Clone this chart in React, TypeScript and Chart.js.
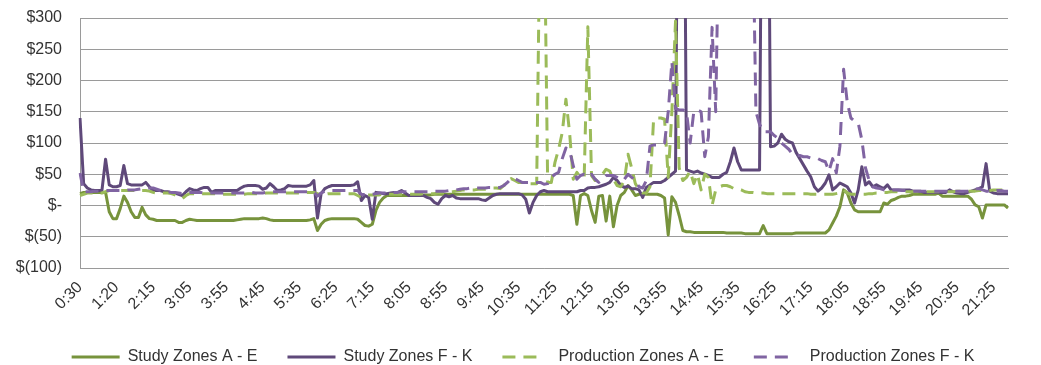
import React, { useEffect, useRef } from "react";
import { Chart, registerables } from "chart.js";

Chart.register(...registerables);

// Time-of-day categories (5-minute steps; one slot after 1:20 is absent in the source)
function fmtTime(m: number): string {
  const h = Math.floor(m / 60);
  const mm = m % 60;
  return `${h}:${mm.toString().padStart(2, "0")}`;
}
const categories: string[] = Array.from({ length: 255 }, (_, i) =>
  fmtTime(30 + 5 * (i <= 10 ? i : i + 1))
);

const yTicks = [-100, -50, 0, 50, 100, 150, 200, 250, 300];

const studyAE = [
  19, 21, 21, 21, 21, 21, 21, 21, -10, -21,
  -21, -5, 15, 5, -10, -19, -19, -3, -15, -21,
  -22, -24, -24, -24, -24, -24, -24, -27, -27, -24,
  -22, -23, -24, -24, -24, -24, -24, -24, -24, -24,
  -24, -24, -24, -23, -22, -21, -21, -21, -21, -21,
  -20, -21, -23, -24, -24, -24, -24, -24, -24, -24,
  -24, -24, -24, -23, -21, -40, -30, -24, -22, -21,
  -21, -21, -21, -21, -21, -21, -22, -27, -32, -33,
  -30, -8, 5, 12, 16, 16, 16, 16, 16, 16,
  16, 16, 16, 17, 17, 17, 17, 18, 18, 18,
  18, 18, 18, 18, 18, 18, 18, 18, 18, 18,
  18, 18, 18, 18, 18, 18, 18, 18, 18, 18,
  18, 18, 18, 18, 18, 18, 18, 18, 18, 18,
  18, 18, 18, 18, 18, 16, -30, 16, 19, 16,
  -8, -27, 15, 16, -25, 15, -34, 0, 16, 21,
  32, 25, 16, 18, 18, 18, 18, 18, 18, 16,
  12, -47, 14, 5, -16, -40, -42, -42, -43, -43,
  -43, -43, -43, -43, -43, -43, -43, -44, -44, -44,
  -44, -44, -45, -45, -45, -45, -45, -32, -45, -45,
  -45, -45, -45, -45, -45, -45, -44, -44, -44, -44,
  -44, -44, -44, -44, -44, -39, -28, -17, -2, 25,
  20, 4, -7, -10, -10, -10, -10, -10, -10, -10,
  4, 2, 8, 10, 13, 15, 15, 16, 18, 18,
  18, 18, 18, 18, 18, 20, 15, 15, 15, 15,
  15, 15, 15, 15, 10, 1, -2, -20, 1, 1,
  1, 1, 1, 1, -4,
];

const studyFK = [
  140, 35, 28, 25, 24, 24, 24, 74, 33, 30,
  30, 32, 64, 35, 33, 33, 33, 33, 37, 30,
  24, 24, 24, 22, 22, 20, 20, 18, 16, 22,
  27, 25, 24, 27, 29, 29, 21, 24, 24, 24,
  24, 24, 24, 24, 28, 31, 32, 32, 32, 31,
  26, 28, 35, 30, 24, 25, 27, 32, 31, 31,
  31, 31, 31, 33, 40, -20, 19, 27, 30, 32,
  32, 32, 32, 32, 32, 33, 38, 8, 16, 13,
  -22, 21, 20, 19, 19, 20, 21, 21, 24, 20,
  16, 16, 16, 16, 16, 13, 11, 5, 2, 11,
  16, 14, 16, 12, 11, 11, 11, 11, 11, 11,
  9, 8, 12, 16, 18, 19, 19, 19, 19, 19,
  19, 17, 10, -12, 5, 16, 22, 24, 22, 22,
  22, 22, 22, 22, 22, 22, 22, 24, 24, 28,
  29, 29, 30, 32, 34, 37, 45, 40, 32, 29,
  31, 27, 27, 25, 13, 29, 33, 37, 37, 37,
  40, 45, 50, 55, 900, 900, 57, 55, 53, 55,
  52, 50, 48, 45, 45, 45, 50, 53, 70, 92,
  70, 57, 57, 57, 57, 57, 57, 900, 900, 94,
  95, 100, 114, 106, 102, 100, 85, 75, 65, 55,
  46, 30, 23, 28, 36, 49, 25, 30, 36, 33,
  30, 20, 4, 25, 62, 33, 38, 30, 33, 30,
  27, 33, 25, 25, 25, 25, 25, 25, 23, 23,
  23, 21, 21, 21, 21, 21, 21, 21, 25, 22,
  20, 19, 19, 21, 23, 25, 27, 30, 67, 23,
  20, 19, 19, 19, 19,
];

const prodAE = [
  16, 18, 20, 20, 20, 20, 20, 22, 24, 24,
  24, 24, 24, 24, 24, 24, 24, 24, 24, 23,
  21, 20, 20, 20, 20, 19, 17, 14, 11, 16,
  19, 19, 19, 19, 19, 19, 19, 19, 18, 18,
  18, 18, 18, 18, 18, 18, 19, 19, 19, 19,
  19, 20, 20, 20, 20, 20, 20, 20, 20, 20,
  20, 21, 21, 21, 21, 19, 18, 18, 19, 19,
  19, 19, 19, 19, 19, 19, 16, 13, 16, 17,
  17, 17, 17, 18, 18, 18, 18, 18, 18, 18,
  18, 18, 18, 18, 19, 19, 19, 19, 20, 20,
  20, 21, 22, 23, 24, 25, 25, 25, 25, 26,
  26, 26, 27, 28, 28, 27, 32, 37, 43, 40,
  37, 37, 36, 35, 35, 35, 500, 500, 37, 37,
  69, 90, 117, 170, 117, 42, 53, 45, 45, 286,
  48, 40, 45, 50, 58, 55, 42, 32, 30, 40,
  82, 60, 35, 25, 20, 20, 30, 138, 140, 140,
  138, 45, 150, 295, 60, 40, 45, 55, 35, 50,
  25, 50, 45, 0, 25, 30, 32, 32, 30, 27,
  27, 25, 22, 21, 21, 20, 20, 20, 19, 19,
  19, 19, 19, 19, 19, 19, 19, 19, 19, 19,
  18, 18, 18, 18, 18, 18, 18, 19, 20, 25,
  20, 18, 18, 18, 18, 18, 19, 19, 20, 20,
  21, 21, 22, 22, 22, 22, 22, 22, 22, 22,
  22, 22, 22, 22, 22, 22, 22, 22, 22, 22,
  23, 23, 23, 23, 23, 23, 24, 24, 24, 24,
  25, 25, 25, 25, 25,
];

const prodFK = [
  52, 22, 22, 22, 23, 23, 23, 24, 24, 24,
  24, 24, 24, 25, 25, 25, 26, 27, 28, 28,
  28, 26, 24, 22, 22, 21, 21, 20, 19, 20,
  21, 21, 21, 21, 20, 20, 20, 20, 20, 20,
  20, 20, 20, 20, 20, 20, 21, 21, 20, 20,
  20, 21, 22, 22, 22, 22, 22, 22, 22, 22,
  22, 22, 22, 22, 22, 15, 20, 23, 24, 24,
  24, 24, 24, 24, 24, 24, 24, 18, 17, 18,
  18, 19, 20, 20, 20, 21, 21, 21, 22, 22,
  22, 22, 22, 22, 22, 22, 22, 23, 23, 23,
  23, 24, 24, 25, 26, 27, 27, 28, 28, 28,
  28, 28, 29, 29, 29, 29, 32, 37, 43, 43,
  40, 37, 37, 37, 37, 37, 37, 34, 35, 45,
  50, 53, 75, 92, 88, 64, 42, 48, 50, 46,
  50, 42, 37, 42, 48, 48, 48, 45, 40, 42,
  50, 45, 40, 30, 28, 40, 95, 97, 97, 97,
  100, 150, 230, 155, 153, 153, 150, 100, 150, 153,
  150, 78, 110, 285, 150, 500, 500, 500, 500, 500,
  500, 500, 500, 500, 500, 150, 130, 118, 118, 118,
  112, 108, 100, 95, 90, 82, 80, 80, 78, 78,
  76, 75, 75, 72, 70, 55, 75, 52, 95, 218,
  165, 140, 135, 132, 105, 60, 40, 30, 28, 27,
  25, 25, 25, 25, 25, 24, 24, 23, 23, 23,
  23, 23, 23, 23, 23, 23, 23, 23, 23, 23,
  23, 23, 23, 23, 24, 26, 27, 25, 23, 23,
  23, 24, 24, 23, 23,
];

const seriesNames = [
  "Study Zones A - E",
  "Study Zones F - K",
  "Production Zones A - E",
  "Production Zones F - K",
];

const FONT = "'Liberation Sans', Arial, sans-serif";
const TEXT = "#333333";
const GRID = "#9a9a9a";

const shiftLegend = {
  id: "shiftLegend",
  afterLayout(chart: any) {
    const l = chart.legend;
    if (l) {
      l.top -= 10;
      l.left += 15;
      l.right += 15;
    }
  },
};

export default function App() {
  const ref = useRef<HTMLCanvasElement | null>(null);

  useEffect(() => {
    document.body.style.margin = "0";
    if (!ref.current) return;
    const common = {
      borderWidth: 3,
      pointRadius: 0,
      pointHoverRadius: 0,
      tension: 0,
      fill: false,
      borderJoinStyle: "round" as const,
    };
    const chart = new Chart(ref.current, {
      type: "line",
      data: {
        labels: categories,
        datasets: [
          { ...common, label: seriesNames[0], data: studyAE, borderColor: "#77933C", backgroundColor: "#77933C", order: 4 },
          { ...common, label: seriesNames[1], data: studyFK, borderColor: "#5F497A", backgroundColor: "#5F497A", order: 3 },
          { ...common, label: seriesNames[2], data: prodAE, borderColor: "#9BBB59", backgroundColor: "#9BBB59", borderDash: [13, 8], order: 2 },
          { ...common, label: seriesNames[3], data: prodFK, borderColor: "#8064A2", backgroundColor: "#8064A2", borderDash: [13, 8], order: 1 },
        ],
      },
      options: {
        responsive: false,
        animation: false,
        events: [],
        layout: { padding: { left: 8, right: 33, top: 18, bottom: 0 } },
        plugins: {
          legend: {
            position: "bottom",
            maxHeight: 36,
            labels: {
              usePointStyle: true,
              pointStyle: "line",
              pointStyleWidth: 48,
              padding: 30,
              color: TEXT,
              font: { family: FONT, size: 16 },
              sort: (a: any, b: any) => a.datasetIndex - b.datasetIndex,
              generateLabels: (c: any) => {
                const base = (Chart.defaults as any).plugins.legend.labels.generateLabels(c);
                return base.map((it: any) => {
                  const ds: any = c.data.datasets[it.datasetIndex];
                  return {
                    ...it,
                    pointStyle: "line",
                    strokeStyle: ds.borderColor,
                    fillStyle: ds.borderColor,
                    lineWidth: 3,
                    lineCap: "butt",
                    lineDash: ds.borderDash ? [13, 8, 13, 100] : [],
                    lineDashOffset: 0,
                  };
                });
              },
            },
          },
          tooltip: { enabled: false },
        },
        scales: {
          x: {
            grid: { display: false, drawTicks: false },
            border: { display: true, color: GRID },
            ticks: {
              autoSkip: false,
              minRotation: 45,
              maxRotation: 45,
              padding: 10,
              color: TEXT,
              font: { family: FONT, size: 16 },
              callback: (_v: any, i: number) => (i % 10 === 0 ? categories[i] : null),
            },
            afterFit: (s: any) => {
              s.height = 61;
              s.paddingLeft = 0;
              s.paddingRight = 0;
            },
          },
          y: {
            min: yTicks[0],
            max: yTicks[yTicks.length - 1],
            ticks: {
              stepSize: 50,
              padding: 18,
              color: TEXT,
              font: { family: FONT, size: 16 },
              callback: (v: any) => {
                const n = Number(v);
                if (n === 0) return "$-";
                if (n < 0) return `$(${-n})`;
                return `$${n}`;
              },
            },
            grid: { color: GRID, drawTicks: false },
            border: { display: true, color: GRID },
            afterFit: (s: any) => {
              s.width = 72;
              s.paddingTop = 0;
              s.paddingBottom = 0;
            },
          },
        },
      },
      plugins: [shiftLegend],
    });
    return () => chart.destroy();
  }, []);

  return (
    <div style={{ width: 1041, height: 365, background: "#fff" }}>
      <canvas ref={ref} width={1041} height={365} />
    </div>
  );
}
